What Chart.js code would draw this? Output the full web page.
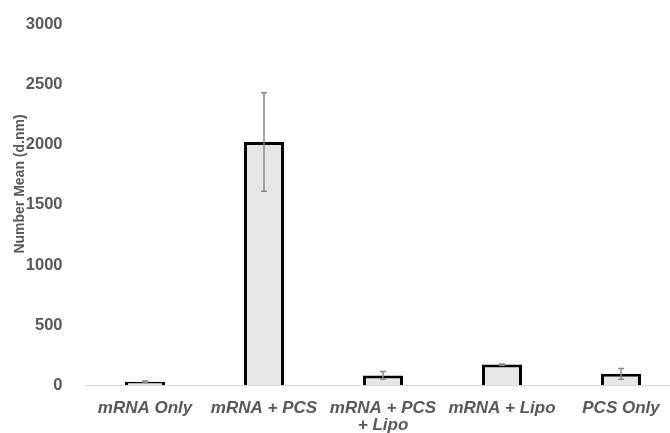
<!DOCTYPE html>
<html>
<head>
<meta charset="utf-8">
<script src="https://cdn.jsdelivr.net/npm/chart.js@4"></script>
<style>
  html, body { margin: 0; padding: 0; background: #fff; }
  #wrap { width: 670px; height: 433px; overflow: hidden; position: relative; }
  #chart { display: block; }
</style>
</head>
<body>
<div id="wrap"><canvas id="chart" width="690" height="433"></canvas></div>
<script>
// Number mean size per formulation
const categories = ['mRNA Only', 'mRNA + PCS', ['mRNA + PCS', '+ Lipo'], 'mRNA + Lipo', 'PCS Only'];
const means = [27, 2025, 80, 170, 93];
const errors = [6, 410, 33, 5, 45];
const yTicks = [0, 500, 1000, 1500, 2000, 2500, 3000];

const textGray = '#595959';

// vertical error bars, placed with the chart's own scales
const errorBars = {
  id: 'errorBars',
  afterDatasetsDraw(chart) {
    const { ctx, scales: { x, y } } = chart;
    ctx.save();
    ctx.strokeStyle = '#8a8a8a';
    ctx.lineWidth = 1.5;
    means.forEach((m, i) => {
      const px = x.getPixelForValue(i);
      const top = y.getPixelForValue(m + errors[i]);
      const bot = y.getPixelForValue(m - errors[i]);
      ctx.beginPath();
      ctx.moveTo(px, top); ctx.lineTo(px, bot);
      ctx.moveTo(px - 3, top); ctx.lineTo(px + 3, top);
      ctx.moveTo(px - 3, bot); ctx.lineTo(px + 3, bot);
      ctx.stroke();
    });
    ctx.restore();
  }
};

// y axis title sits a little above the plot's middle
const yTitle = {
  id: 'yTitle',
  afterDraw(chart) {
    const ctx = chart.ctx;
    ctx.save();
    ctx.translate(20, 184);
    ctx.rotate(-Math.PI / 2);
    ctx.font = 'bold 14px "Liberation Sans", Arial, sans-serif';
    ctx.fillStyle = textGray;
    ctx.textAlign = 'center';
    ctx.textBaseline = 'middle';
    ctx.fillText('Number Mean (d.nm)', 0, 0);
    ctx.restore();
  }
};

new Chart(document.getElementById('chart'), {
  type: 'bar',
  data: {
    labels: categories,
    datasets: [{
      data: means,
      backgroundColor: '#e6e6e6',
      borderColor: '#000',
      borderWidth: 3,
      categoryPercentage: 1,
      barPercentage: 0.336
    }]
  },
  options: {
    responsive: false,
    animation: false,
    layout: { padding: { top: 21, right: 9.5, left: 0, bottom: 0 } },
    plugins: { legend: { display: false }, tooltip: { enabled: false } },
    scales: {
      x: {
        grid: { display: false },
        border: { display: true, color: '#d9d9d9', width: 1 },
        ticks: {
          color: textGray,
          padding: 7,
          maxRotation: 0,
          autoSkip: false,
          font: { family: '"Liberation Sans", Arial, sans-serif', size: 17, weight: 'bold', style: 'italic', lineHeight: 1.0 }
        },
        afterFit: s => { s.height = 48; }
      },
      y: {
        min: 0,
        max: 3000,
        afterBuildTicks: s => { s.ticks = yTicks.map(v => ({ value: v })); },
        grid: { display: false },
        border: { display: false },
        ticks: {
          color: textGray,
          padding: 15,
          callback: v => String(v),
          font: { family: '"Liberation Sans", Arial, sans-serif', size: 16.5, weight: 'bold' }
        },
        afterFit: s => { s.width = 85.5; }
      }
    }
  },
  plugins: [errorBars, yTitle]
});
</script>
</body>
</html>
